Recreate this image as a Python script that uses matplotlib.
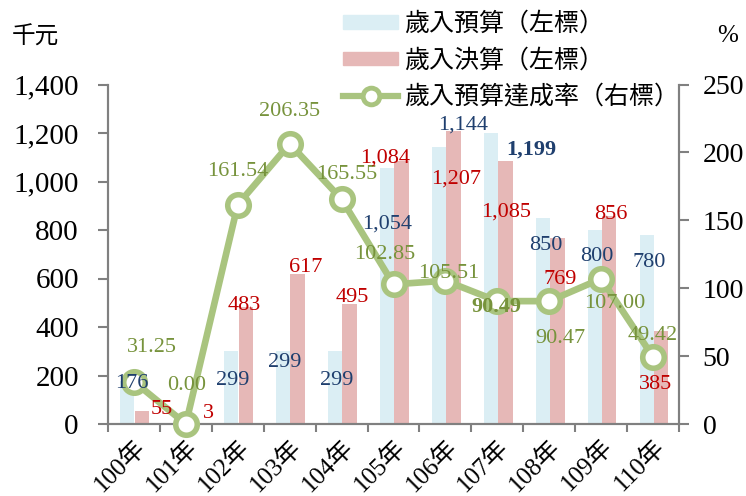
import numpy as np
import matplotlib
matplotlib.use('Agg')
import matplotlib.pyplot as plt
from matplotlib.patches import Patch
from matplotlib.lines import Line2D
from matplotlib.ticker import FuncFormatter

plt.rcParams['font.family'] = ['Liberation Serif', 'Noto Sans CJK TC', 'DejaVu Sans']

# data (thousand NTD, %)
years = ['100年', '101年', '102年', '103年', '104年', '105年',
         '106年', '107年', '108年', '109年', '110年']
budget = [176, 0, 299, 299, 299, 1054, 1144, 1199, 850, 800, 780]
actual = [55, 3, 483, 617, 495, 1084, 1207, 1085, 769, 856, 385]
rate = [31.25, 0.00, 161.54, 206.35, 165.55, 102.85, 105.51, 90.49, 90.47, 107.00, 49.42]

budget_txt = ['176', '', '299', '299', '299', '1,054', '1,144', '1,199', '850', '800', '780']
actual_txt = ['55', '3', '483', '617', '495', '1,084', '1,207', '1,085', '769', '856', '385']
rate_txt = ['%.2f' % r for r in rate]

# label placement (x offset in category units, y in axis units)
b_dx = [-0.04, 0, -0.10, -0.10, -0.09, -0.13, 0.35, 0.65, -0.06, -0.09, -0.07]
b_y = [169, 0, 181, 252, 181, 825, 1233, 1130, 738, 689, 668]
a_dx = [0.54, 0.44, 0.13, 0.31, 0.20, -0.16, 0.21, 0.17, 0.21, 0.19, 0.04]
a_y = [58, 45, 487, 647, 520, 1098, 1010, 874, 594, 862, 161]
r_dx = [0.35, 0.02, 0.0, 0.0, 0.10, -0.16, 0.06, -0.02, 0.21, 0.27, 0.0]
r_y = [56.7, 28.7, 185.6, 229.8, 184, 125, 111, 86, 63, 89, 65.5]

c_blue = '#DBEEF4'
c_red = '#E6B8B7'
c_line = '#A9C47F'
t_blue = '#1F3F6E'
t_red = '#C00000'
t_green = '#77933C'
c_axis = '#808080'

x = np.arange(len(years))

fig = plt.figure(figsize=(7.46, 4.96), dpi=100)
ax = fig.add_axes([108/746, 1-424/496, (679-108)/746, (424-84.5)/496])
ax2 = ax.twinx()

ax.bar(x - 0.125, budget, width=0.27, color=c_blue, zorder=2)
ax.bar(x + 0.155, actual, width=0.28, color=c_red, zorder=2)
ax2.plot(x, rate, color=c_line, lw=4.8, marker='o', ms=15.5, mfc='white',
         mec=c_line, mew=4, zorder=3, clip_on=False)

ax.set_xlim(-0.5, len(years) - 0.5)
ax.set_ylim(0, 1400)
ax2.set_ylim(0, 250)
ax.set_yticks(range(0, 1401, 200))
ax2.set_yticks(range(0, 251, 50))
ax.yaxis.set_major_formatter(FuncFormatter(lambda v, p: '{:,}'.format(int(v))))

ax.set_xticks(np.arange(-0.5, len(years), 1))
ax.set_xticklabels([])
ax.set_xticks(x, minor=True)
ax.set_xticklabels(years, minor=True, rotation=45, ha='right', va='top',
                   rotation_mode='anchor', fontsize=18)
ax.tick_params(axis='x', which='minor', length=0, pad=8)
ax.tick_params(axis='x', which='major', length=6, width=1.5, color=c_axis)
ax.tick_params(axis='y', labelsize=21, length=7, width=1.5, color=c_axis, pad=14)
ax2.tick_params(axis='y', labelsize=20, length=7, width=1.5, color=c_axis, pad=10)

for a in (ax, ax2):
    a.spines['top'].set_visible(False)
    for s in ('left', 'right', 'bottom'):
        a.spines[s].set_color(c_axis)
        a.spines[s].set_linewidth(1.5)

# data labels (all on top axes)
for i in range(len(years)):
    if budget_txt[i]:
        ax2.text(x[i] + b_dx[i], b_y[i], budget_txt[i], transform=ax.transData,
                 ha='center', va='center', fontsize=16, color=t_blue,
                 fontweight='bold' if i == 7 else 'normal', zorder=5)
    ax2.text(x[i] + a_dx[i], a_y[i], actual_txt[i], transform=ax.transData,
             ha='center', va='center', fontsize=16, color=t_red, zorder=5)
    ax2.text(x[i] + r_dx[i], r_y[i], rate_txt[i], ha='center', va='center',
             fontsize=16, color=t_green,
             fontweight='bold' if i == 7 else 'normal', zorder=5)

fig.text(12/746, 1-38/496, '千元', fontsize=17, va='center', ha='left')
fig.text(728/746, 1-36/496, '%', fontsize=18, va='center', ha='center')

handles = [Patch(color=c_blue), Patch(color=c_red),
           Line2D([], [], color=c_line, lw=4.5, marker='o', ms=12, mfc='white',
                  mec=c_line, mew=3.5)]
labels = ['歲入預算（左標）', '歲入決算（左標）', '歲入預算達成率（右標）']
fig.legend(handles, labels, loc='upper left', bbox_to_anchor=(343/746, 1-12/496),
           frameon=False, fontsize=18, handlelength=2.2, handleheight=0.45,
           handletextpad=0.25, labelspacing=0.5, borderpad=0, borderaxespad=0)

fig.savefig('out.png', dpi=100)
